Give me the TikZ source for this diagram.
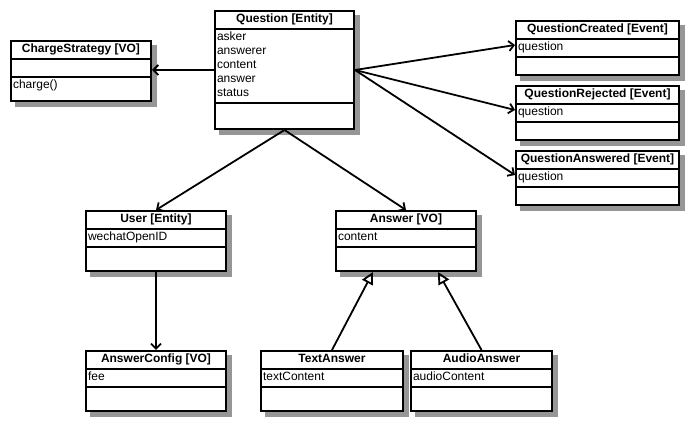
\documentclass[tikz,border=0pt]{standalone}
\usepackage{fontspec}
\setmainfont{Liberation Sans}
\usetikzlibrary{shapes.multipart,backgrounds,arrows.meta}

\definecolor{shadowgray}{RGB}{150,150,150}

\tikzset{
	umlclass/.style={rectangle split, rectangle split parts=3, draw, line width=2pt, fill=white,
		inner xsep=2pt, inner ysep=1pt, align=left, rectangle split part align={center,left,left},
		font=\fontsize{12}{14}\selectfont, anchor=north west},
	shadowbox/.style={fill=shadowgray},
	assoc/.style={line width=1.8pt, -{Straight Barb[length=5pt,width=10pt]}},
	inherit/.style={line width=1.8pt, -{Triangle[open,length=12pt,width=12pt]}}
}

\begin{document}
\begin{tikzpicture}[x=1pt,y=-1pt]
		
		\useasboundingbox (0,0) rectangle (697,430);
		
		\node[umlclass, minimum width=140pt] (charge) at (10,40)
			{\strut\textbf{ChargeStrategy [VO]}
			\nodepart{two}\strut
			\nodepart{three}charge()\rule[-10pt]{0pt}{19.8pt}};
		
		\node[umlclass, minimum width=139pt] (question) at (214,10)
			{\strut\textbf{Question [Entity]}
			\nodepart{two}\strut asker\\answerer\\content\\answer\\status\strut
			\nodepart{three}\rule{0pt}{22pt}};
		
		\node[umlclass, minimum width=163pt] (qcreated) at (515,20)
			{\strut\textbf{QuestionCreated [Event]}
			\nodepart{two}\strut question
			\nodepart{three}\strut};
		\node[umlclass, minimum width=163pt] (qrejected) at (515,85)
			{\strut\textbf{QuestionRejected [Event]}
			\nodepart{two}\strut question
			\nodepart{three}\strut};
		\node[umlclass, minimum width=163pt] (qanswered) at (515,150)
			{\strut\textbf{QuestionAnswered [Event]}
			\nodepart{two}\strut question
			\nodepart{three}\strut};
		
		\node[umlclass, minimum width=140pt] (user) at (85,210)
			{\strut\textbf{User [Entity]}
			\nodepart{two}\strut wechatOpenID
			\nodepart{three}\rule{0pt}{20pt}};
		\node[umlclass, minimum width=140pt] (answer) at (335,210)
			{\strut\textbf{Answer [VO]}
			\nodepart{two}\strut content
			\nodepart{three}\rule{0pt}{20pt}};
		
		\node[umlclass, minimum width=140pt] (anscfg) at (85,350)
			{\strut\textbf{AnswerConfig [VO]}
			\nodepart{two}\strut fee
			\nodepart{three}\rule{0pt}{20pt}};
		\node[umlclass, minimum width=142pt] (textans) at (260,350)
			{\strut\textbf{TextAnswer}
			\nodepart{two}\strut textContent
			\nodepart{three}\rule{0pt}{20pt}};
		\node[umlclass, minimum width=141pt] (audioans) at (410,350)
			{\strut\textbf{AudioAnswer}
			\nodepart{two}\strut audioContent
			\nodepart{three}\rule{0pt}{20pt}};
		
		\begin{scope}[on background layer]
			\fill[shadowbox] ([shift={(5pt,-5pt)}]charge.south west) rectangle ([shift={(5pt,-5pt)}]charge.north east);
			\fill[shadowbox] ([shift={(5pt,-5pt)}]question.south west) rectangle ([shift={(5pt,-5pt)}]question.north east);
			\fill[shadowbox] ([shift={(5pt,-5pt)}]qcreated.south west) rectangle ([shift={(5pt,-5pt)}]qcreated.north east);
			\fill[shadowbox] ([shift={(5pt,-5pt)}]qrejected.south west) rectangle ([shift={(5pt,-5pt)}]qrejected.north east);
			\fill[shadowbox] ([shift={(5pt,-5pt)}]qanswered.south west) rectangle ([shift={(5pt,-5pt)}]qanswered.north east);
			\fill[shadowbox] ([shift={(5pt,-5pt)}]user.south west) rectangle ([shift={(5pt,-5pt)}]user.north east);
			\fill[shadowbox] ([shift={(5pt,-5pt)}]answer.south west) rectangle ([shift={(5pt,-5pt)}]answer.north east);
			\fill[shadowbox] ([shift={(5pt,-5pt)}]anscfg.south west) rectangle ([shift={(5pt,-5pt)}]anscfg.north east);
			\fill[shadowbox] ([shift={(5pt,-5pt)}]textans.south west) rectangle ([shift={(5pt,-5pt)}]textans.north east);
			\fill[shadowbox] ([shift={(5pt,-5pt)}]audioans.south west) rectangle ([shift={(5pt,-5pt)}]audioans.north east);
		\end{scope}
		
		\draw[assoc] (question.west) -- (question.west -| charge.east);
		\draw[assoc] (question.east) -- ([yshift=3pt]qcreated.two west);
		\draw[assoc] (question.east) -- ([yshift=3pt]qrejected.two west);
		\draw[assoc] (question.east) -- ([yshift=3pt]qanswered.two west);
		\draw[assoc] (question.south) -- (user.north);
		\draw[assoc] (question.south) -- (answer.north);
		\draw[assoc] (user.south) -- (anscfg.north);
		\draw[inherit] (textans.north) -- ([xshift=-33pt]answer.south);
		\draw[inherit] (audioans.north) -- ([xshift=32pt]answer.south);
		
\end{tikzpicture}
\end{document}
